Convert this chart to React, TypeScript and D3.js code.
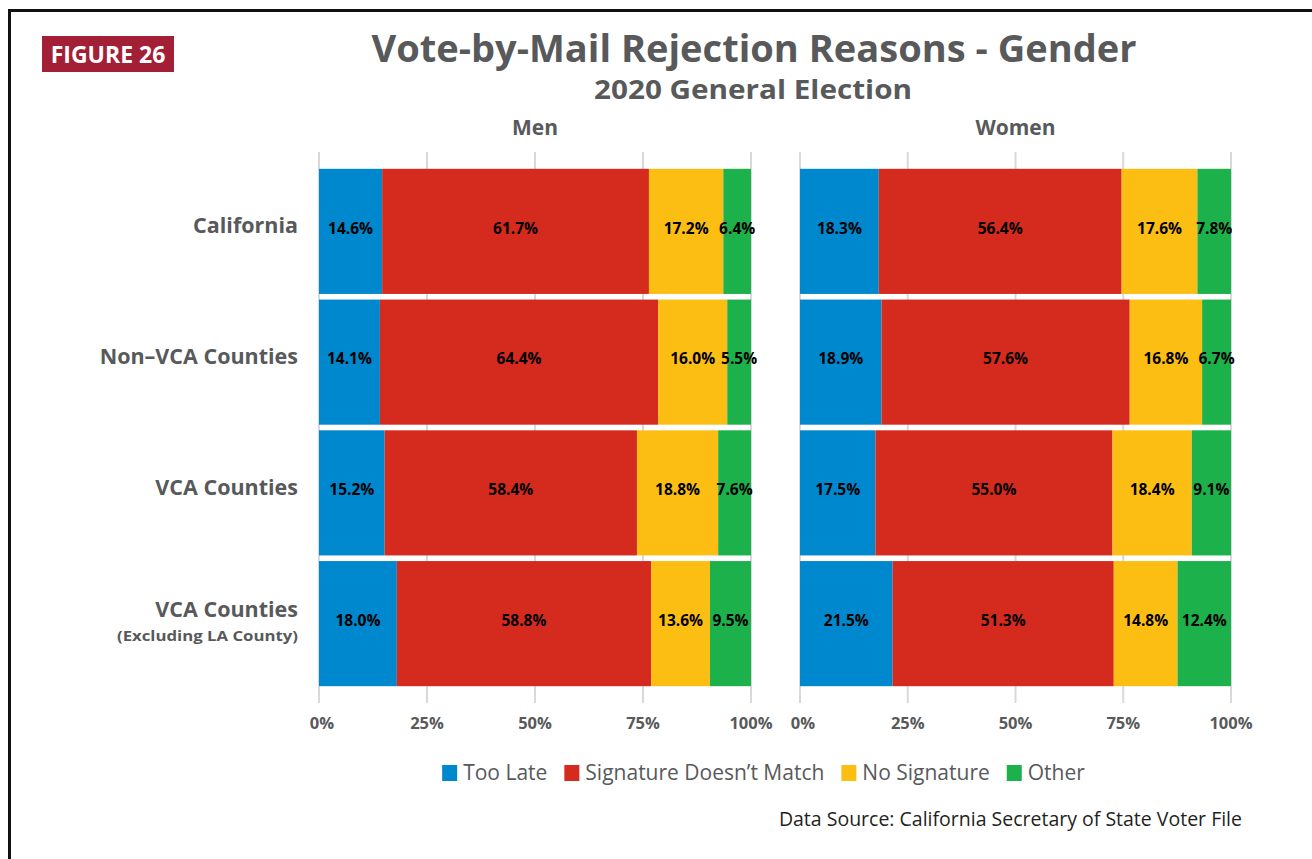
import React, { useEffect, useRef } from 'react';
import * as d3 from 'd3';

const categories = ['California', 'Non\u2013VCA Counties', 'VCA Counties', 'VCA Counties'];
const categoryNotes = ['', '', '', '(Excluding LA County)'];
const reasons = ['Too Late', 'Signature Doesn\u2019t Match', 'No Signature', 'Other'];
const reasonColors = ['#0088CF', '#D52B1F', '#FDBE13', '#1DB14B'];
const panels = ['Men', 'Women'];

const menTooLate = [14.6, 14.1, 15.2, 18.0];
const menSignatureMismatch = [61.7, 64.4, 58.4, 58.8];
const menNoSignature = [17.2, 16.0, 18.8, 13.6];
const menOther = [6.4, 5.5, 7.6, 9.5];

const womenTooLate = [18.3, 18.9, 17.5, 21.5];
const womenSignatureMismatch = [56.4, 57.6, 55.0, 51.3];
const womenNoSignature = [17.6, 16.8, 18.4, 14.8];
const womenOther = [7.8, 6.7, 9.1, 12.4];

const xTicks = [0, 0.25, 0.5, 0.75, 1];

const TEXT = '#58595B';
const FONT = "'Open Sans', 'DejaVu Sans', sans-serif";

export default function App() {
  const ref = useRef<SVGSVGElement>(null);

  useEffect(() => {
    const svg = d3.select(ref.current);
    svg.selectAll('*').remove();
    svg.attr('font-family', FONT);

    // frame
    svg.append('path').attr('d', 'M9.5,859 V10.5 H1312').attr('fill', 'none').attr('stroke', '#111').attr('stroke-width', 3);

    // badge
    svg.append('rect').attr('x', 42).attr('y', 36).attr('width', 132).attr('height', 36).attr('fill', '#A21F36');
    svg.append('text').attr('x', 108).attr('y', 63).attr('text-anchor', 'middle').attr('fill', '#fff')
      .attr('font-weight', 700).attr('font-size', 23).text('FIGURE 26');

    // titles
    svg.append('text').attr('x', 754).attr('y', 62).attr('text-anchor', 'middle').attr('fill', TEXT)
      .attr('font-weight', 700).attr('font-size', 38).attr('textLength', 765).attr('lengthAdjust', 'spacingAndGlyphs')
      .text('Vote-by-Mail Rejection Reasons - Gender');
    svg.append('text').attr('x', 753).attr('y', 99).attr('text-anchor', 'middle').attr('fill', TEXT)
      .attr('font-weight', 700).attr('font-size', 27).attr('textLength', 318).attr('lengthAdjust', 'spacingAndGlyphs')
      .text('2020 General Election');

    const y = d3.scaleBand<number>().domain(d3.range(categories.length)).range([166, 689]).paddingInner(0.043).paddingOuter(0.0215);

    const panelData = [
      [menTooLate, menSignatureMismatch, menNoSignature, menOther],
      [womenTooLate, womenSignatureMismatch, womenNoSignature, womenOther],
    ];
    const panelRanges: [number, number][] = [[319, 751], [800, 1231]];

    panels.forEach((panel, pi) => {
      const x = d3.scaleLinear().domain([0, 1]).range(panelRanges[pi]);
      const g = svg.append('g');
      const rows = categories.map((_, ci) => {
        const r: Record<string, number> = {};
        reasons.forEach((k, ki) => { r[k] = panelData[pi][ki][ci]; });
        return r;
      });
      const stack = d3.stack<Record<string, number>>().keys(reasons).offset(d3.stackOffsetExpand);
      const series = stack(rows);

      // gridlines
      g.selectAll('line.grid').data(xTicks).join('line')
        .attr('x1', d => x(d)).attr('x2', d => x(d)).attr('y1', 152).attr('y2', 703)
        .attr('stroke', '#D9D9D9').attr('stroke-width', 2);

      // tick labels
      g.selectAll('text.tick').data(xTicks).join('text')
        .attr('x', d => x(d) + (d === 0 ? 3 : 0)).attr('y', 729).attr('text-anchor', 'middle')
        .attr('fill', TEXT).attr('font-weight', 700).attr('font-size', 16.5)
        .text(d => d3.format('.0%')(d));

      // panel header
      g.append('text').attr('x', (panelRanges[pi][0] + panelRanges[pi][1]) / 2).attr('y', 135)
        .attr('text-anchor', 'middle').attr('fill', TEXT).attr('font-weight', 700).attr('font-size', 21).text(panel);

      series.forEach((s, si) => {
        g.append('g').selectAll('rect').data(s).join('rect')
          .attr('x', d => x(d[0])).attr('width', d => x(d[1]) - x(d[0]))
          .attr('y', (_, i) => y(i)!).attr('height', y.bandwidth())
          .attr('fill', reasonColors[si]);
      });
      series.forEach((s, si) => {
        g.append('g').selectAll('text').data(s).join('text')
          .attr('x', d => (x(d[0]) + x(d[1])) / 2).attr('y', (_, i) => y(i)! + y.bandwidth() / 2 - 2)
          .attr('text-anchor', 'middle').attr('dominant-baseline', 'middle')
          .attr('font-weight', 700).attr('font-size', 15.5).attr('fill', '#000')
          .text((_, i) => panelData[pi][si][i].toFixed(1) + '%');
      });
    });

    // category labels
    categories.forEach((c, i) => {
      const cy = y(i)! + y.bandwidth() / 2;
      const hasNote = categoryNotes[i] !== '';
      svg.append('text').attr('x', 298).attr('y', hasNote ? cy - 12 : cy - 4).attr('text-anchor', 'end')
        .attr('dominant-baseline', 'middle').attr('fill', TEXT).attr('font-weight', 700).attr('font-size', 21.5).text(c);
      if (hasNote) {
        svg.append('text').attr('x', 298).attr('y', cy + 13).attr('text-anchor', 'end')
          .attr('dominant-baseline', 'middle').attr('fill', TEXT).attr('font-weight', 700).attr('font-size', 14.5)
          .attr('textLength', 181).attr('lengthAdjust', 'spacingAndGlyphs').text(categoryNotes[i]);
      }
    });

    // legend
    const legend = svg.append('g');
    let lx = 0;
    const items: { g: d3.Selection<SVGGElement, unknown, null, undefined>; w: number }[] = [];
    reasons.forEach((r, i) => {
      const ig = legend.append('g');
      ig.append('rect').attr('x', 0).attr('y', 765).attr('width', 15).attr('height', 16).attr('fill', reasonColors[i]);
      const t = ig.append('text').attr('x', 21).attr('y', 780).attr('fill', TEXT).attr('font-size', 21).text(r);
      const w = 21 + (t.node() as SVGTextElement).getComputedTextLength();
      items.push({ g: ig, w });
    });
    const gap = 17;
    const total = d3.sum(items, d => d.w) + gap * (items.length - 1);
    lx = 763.5 - total / 2;
    items.forEach(it => { it.g.attr('transform', `translate(${lx},0)`); lx += it.w + gap; });

    // source
    svg.append('text').attr('x', 1242).attr('y', 826).attr('text-anchor', 'end').attr('fill', '#231F20')
      .attr('font-size', 19.5).text('Data Source: California Secretary of State Voter File');
  }, []);

  return (
    <svg ref={ref} width={1312} height={859} style={{ position: 'absolute', left: 0, top: 0, background: '#fff' }} />
  );
}
